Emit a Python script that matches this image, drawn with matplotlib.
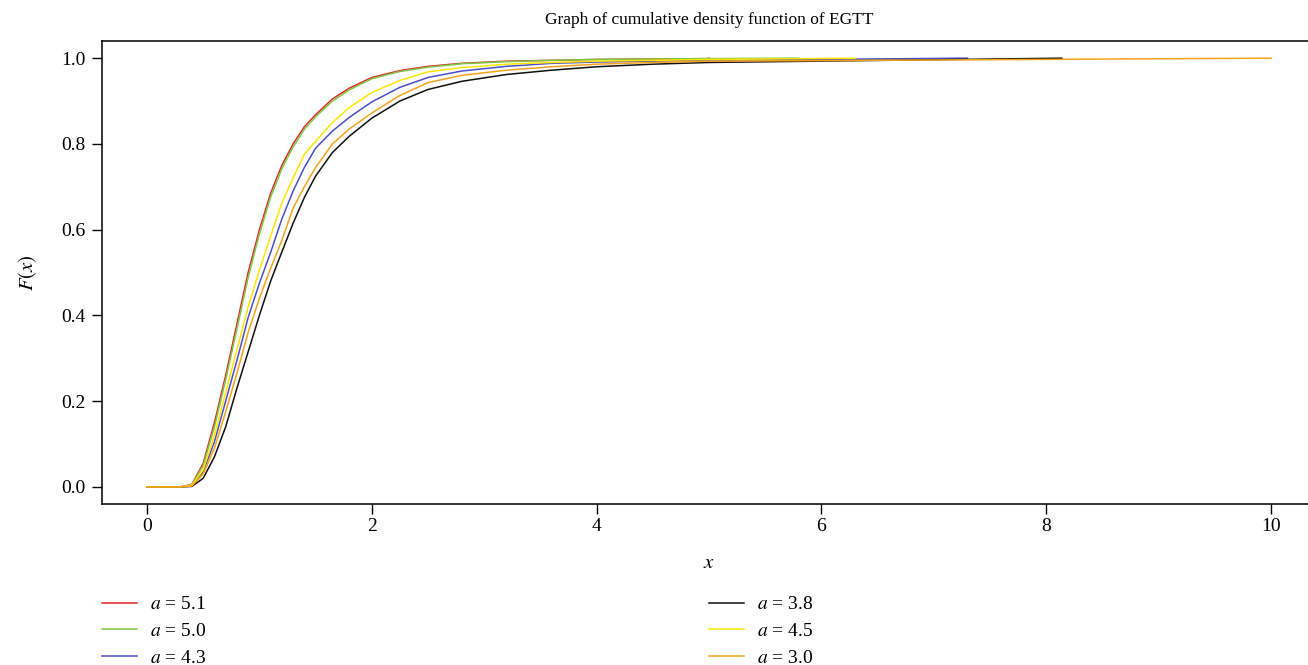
import matplotlib
matplotlib.use("Agg")
import matplotlib.pyplot as plt

plt.rcParams["font.family"] = ["Liberation Serif", "DejaVu Serif"]
plt.rcParams["mathtext.fontset"] = "stix"

# x grid shared by the curve readings
x_grid = [0, 0.3, 0.4, 0.5, 0.6, 0.7, 0.8, 0.9, 1.0, 1.1, 1.2, 1.3, 1.4, 1.5,
          1.65, 1.8, 2.0, 2.25, 2.5, 2.8, 3.2, 3.6, 4.0, 4.5, 5.0]

F_red = [0, 0, 0.006, 0.055, 0.15, 0.26, 0.38, 0.50, 0.60, 0.685, 0.75, 0.80, 0.84,
         0.868, 0.905, 0.93, 0.955, 0.971, 0.981, 0.988, 0.993, 0.995, 0.997, 0.998, 0.999]
F_green = [0, 0, 0.005, 0.05, 0.14, 0.25, 0.368, 0.488, 0.59, 0.676, 0.742, 0.793, 0.834,
           0.863, 0.90, 0.926, 0.952, 0.969, 0.979, 0.987, 0.992, 0.995, 0.997, 0.998, 0.999]
F_blue = [0, 0, 0.003, 0.035, 0.105, 0.20, 0.295, 0.395, 0.475, 0.547, 0.625, 0.69, 0.745,
          0.79, 0.83, 0.862, 0.898, 0.932, 0.955, 0.97, 0.981, 0.988, 0.991, 0.993, 0.995]
F_black = [0, 0, 0.001, 0.02, 0.07, 0.14, 0.23, 0.315, 0.40, 0.48, 0.548, 0.615, 0.675,
           0.725, 0.78, 0.818, 0.86, 0.90, 0.927, 0.946, 0.962, 0.972, 0.98, 0.986, 0.99]
F_yellow = [0, 0, 0.004, 0.04, 0.12, 0.22, 0.32, 0.42, 0.505, 0.585, 0.662, 0.72, 0.776,
            0.806, 0.85, 0.885, 0.92, 0.948, 0.968, 0.978, 0.986, 0.99, 0.993, 0.995, 0.997]
F_orange = [0, 0, 0.002, 0.03, 0.09, 0.175, 0.265, 0.36, 0.44, 0.51, 0.575, 0.65, 0.70,
            0.745, 0.80, 0.835, 0.872, 0.913, 0.943, 0.96, 0.972, 0.98, 0.986, 0.99, 0.993]

# largest sample value of each curve (where the line stops)
x_end = {"red": 5.0, "green": 5.8, "blue": 7.3, "black": 8.14, "yellow": 6.3, "orange": 10.0}

labels = ["$a$ = 5.1", "$a$ = 5.0", "$a$ = 4.3", "$a$ = 3.8", "$a$ = 4.5", "$a$ = 3.0"]
series = [("red", F_red, "#e8262a"), ("green", F_green, "#7ac943"),
          ("blue", F_blue, "#4b4fc4"), ("black", F_black, "#111111"),
          ("yellow", F_yellow, "#ffe600"), ("orange", F_orange, "#f7a21b")]

fig = plt.figure(figsize=(13.08, 6.65), dpi=100)
ax = fig.add_axes([0.078, 0.2421, 0.9281, 0.9383 - 0.2421])

handles = []
for (name, F, col), lab in zip(series, labels):
    xs = x_grid + [x_end[name]]
    ys = F + [1.0]
    h, = ax.plot(xs, ys, color=col, lw=1.1, label=lab)
    handles.append(h)

ax.set_xlim(-0.4, 10.4)
ax.set_ylim(-0.04, 1.04)
ax.set_xticks([0, 2, 4, 6, 8, 10])
ax.set_yticks([0.0, 0.2, 0.4, 0.6, 0.8, 1.0])
ax.set_yticklabels(["0.0", "0.2", "0.4", "0.6", "0.8", "1.0"])
ax.tick_params(direction="out", length=7, width=1, labelsize=14)
ax.tick_params(axis="x", pad=3)
ax.tick_params(axis="y", pad=5)
for s in ax.spines.values():
    s.set_linewidth(1.1)

ax.set_title("Graph of cumulative density function of EGTT", fontsize=12.5, pad=12)
ax.set_xlabel("$x$", fontsize=15, labelpad=14)
ax.set_ylabel("$F(x)$", fontsize=15, labelpad=16)

leg_kw = dict(frameon=False, fontsize=14, handlelength=1.8, handletextpad=0.65,
              labelspacing=0.47, borderpad=0, borderaxespad=0)
fig.legend(handles[:3], labels[:3], loc="upper left", bbox_to_anchor=(0.078, 0.104), **leg_kw)
fig.legend(handles[3:], labels[3:], loc="upper left", bbox_to_anchor=(0.542, 0.104), **leg_kw)

fig.savefig("out.png", dpi=100)
